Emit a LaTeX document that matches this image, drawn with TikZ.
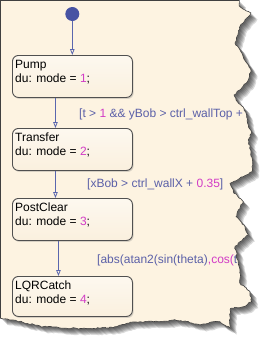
\documentclass[tikz,border=0pt]{standalone}
\usepackage{fontspec}
\setmainfont{Liberation Sans}
\usepackage{tikz}
\usetikzlibrary{arrows.meta, shadows, decorations.pathmorphing}
\definecolor{paper}{HTML}{FDF3E1}
\definecolor{boxtop}{HTML}{FDF8EF}
\definecolor{boxbot}{HTML}{FAF0DE}
\definecolor{boxline}{HTML}{505050}
\definecolor{trancol}{HTML}{5A66AE}
\definecolor{guardcol}{HTML}{5B60A8}
\definecolor{numcol}{HTML}{D23CC6}
\definecolor{dotcol}{HTML}{4753A3}
\newcommand{\num}[1]{\textcolor{numcol}{#1}}
% torn sheet outline, straight top and left, ragged right and bottom
\newcommand{\tornedge}{(0.5,318.3) -- (0.5,0.5) -- (239.3,0.5)
  decorate[decoration={random steps, segment length=2pt, amplitude=0.7pt}]{
  -- (239.3,6) -- (245,10) -- (251,13) -- (246.7,18) -- (240.7,25) -- (238.3,33)
  -- (235,43) -- (240,50) -- (243.3,57) -- (246.7,63) -- (251,70) -- (248.3,80)
  -- (241.7,88) -- (234,95) -- (236,100) -- (243.3,107) -- (246.7,115) -- (248.3,125)
  -- (251.7,133) -- (248.3,140) -- (250.7,150) -- (252.7,163) -- (251.7,172)
  -- (243.3,176.7) -- (230,183.3) -- (233.3,191.7) -- (243.3,201.7) -- (238.3,210)
  -- (236,216.7) -- (245,226.7) -- (248.3,235) -- (240,241.7) -- (235,246.7)
  -- (238.3,263.3) -- (240,270) -- (240,283.3) -- (250,291.7) -- (251.7,301.7)
  -- (243.3,306.7) -- (230.7,308.3) -- (230,316.7) -- (230,328) -- (220,321.7)
  -- (213.3,321.7) -- (200,325) -- (186.7,321.7) -- (173.3,320) -- (160,321.7)
  -- (140,321.7) -- (126.7,323.3) -- (116.7,326.7) -- (100,328.3) -- (66.7,328.3)
  -- (43.3,326.7) -- (26.7,323.3) -- (13.3,320) -- (0.5,318.3)} -- cycle}

\begin{document}
\begin{tikzpicture}[x=1pt, y=-1pt,
    statebox/.style={draw=boxline, line width=0.9pt, rounded corners=6pt,
      top color=boxtop, bottom color=boxbot, minimum width=120pt,
      drop shadow={opacity=0.3, shadow xshift=1.2pt, shadow yshift=-1.5pt}},
    statetext/.style={inner sep=0pt, align=left, font=\fontsize{12}{14}\selectfont},
    guard/.style={inner sep=0pt, text=guardcol, font=\fontsize{12}{14}\selectfont},
    trans/.style={draw=trancol, line width=0.8pt,
      -{Triangle[open, length=6pt, width=4.5pt]}},
    initdot/.style={circle, fill=dotcol, minimum size=14pt, inner sep=0pt}]
    \useasboundingbox (0,0) rectangle (277,359);

    % Shadow of the torn sheet
    \foreach \d in {1.5,2.5,3.5,4.5,5.5,6.5}
      { \pgfmathsetseed{11}\fill[black, opacity=0.14, shift={(\d,\d)}] \tornedge; }

    % Sheet
    \pgfmathsetseed{11}\fill[paper] \tornedge;

    % Guards, cut off at the torn edge
    \begin{scope}
      \pgfmathsetseed{11}\clip \tornedge;
      \node[guard, anchor=base west] (g1) at (79,117.5)
        {[t > \num{1} \&\& yBob > ctrl\_wallTop + 0};
      \node[guard, anchor=base west] (g2) at (87,187.5)
        {[xBob > ctrl\_wallX + \num{0.35}]};
      \node[guard, anchor=base west] (g3) at (97,263.5)
        {[abs(atan2(sin(theta)\num{,cos(}t};
    \end{scope}

    \pgfmathsetseed{11}\draw[black!75, line width=0.6pt] \tornedge;

    % States
    \foreach \n/\t/\v/\y/\h in {pump/Pump/1/55/42, transfer/Transfer/2/128/42,
        postclear/PostClear/3/198/42, lqrcatch/LQRCatch/4/276/40} {
      \node[statebox, minimum height=\h pt, anchor=north west] (\n) at (12,\y) {};
      \node[statetext, anchor=north west] (\n-txt) at ([xshift=3pt,yshift=-5pt]\n.north west)
        {\t\\du: mode = \num{\v};};
    }

    % Default transition and transitions
    \node[initdot] (init) at (72.3,14) {};
    \draw[trans] (init) -- (pump.north -| init);
    \draw[trans] ([xshift=-17pt]pump.south) -- ([xshift=-17pt]transfer.north);
    \draw[trans] ([xshift=-17pt]transfer.south) -- ([xshift=-17pt]postclear.north);
    \draw[trans] ([xshift=-14pt]postclear.south) -- ([xshift=-14pt]lqrcatch.north);
\end{tikzpicture}
\end{document}
